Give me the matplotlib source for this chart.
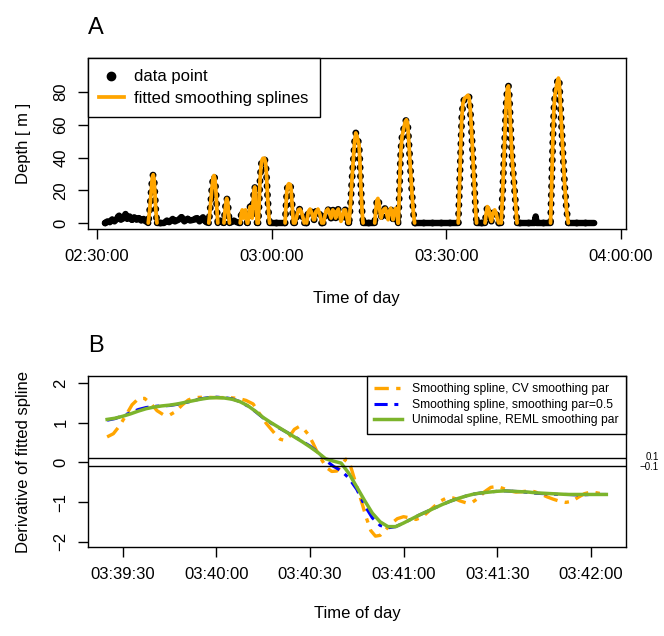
import numpy as np
import matplotlib
matplotlib.use("Agg")
import matplotlib.pyplot as plt
from matplotlib.lines import Line2D
from matplotlib.ticker import FixedLocator, FuncFormatter
import matplotlib.transforms as mtransforms

plt.rcParams["font.family"] = ["Liberation Sans", "DejaVu Sans"]

# ---- panel A: depth record (minutes after 02:30:00, metres) ----
obs_min = [
    1.4, 1.8, 2.2, 2.6, 3.0, 3.4, 3.8, 4.1, 4.5, 4.9, 5.2, 5.6, 6.0, 6.4, 6.8, 7.2, 7.6, 8.0, 8.4,
    8.8, 9.05, 9.3, 9.5, 9.65, 9.8, 9.95, 10.1, 10.3,
    11.5, 12.0, 12.4, 13.0, 13.4, 14.0, 14.5, 15.0, 15.6, 16.0, 16.6, 17.2, 17.6, 18.2, 18.6,
    19.2, 19.45, 19.7, 19.95, 20.1, 20.25, 20.45, 20.6, 20.75,
    21.2,
    21.8, 22.0, 22.2, 22.3, 22.45, 22.6, 22.75,
    23.5, 24.0,
    24.6, 24.8, 24.95, 25.1, 25.2, 25.35, 25.5, 25.65, 25.8,
    25.9, 26.1, 26.3, 26.5, 26.65, 26.8, 26.95, 27.1, 27.25, 27.4, 27.5,
    27.7, 27.85, 28.0, 28.15, 28.3, 28.5, 28.75, 28.95, 29.1, 29.3, 29.5, 29.65,
    32.3, 32.45, 32.6, 32.75, 32.95, 33.2, 33.35, 33.5, 33.65, 33.75,
    34.0, 34.3, 34.6, 34.85, 35.1, 35.4, 35.6,
    36.0, 36.3, 36.6, 36.9, 37.2, 37.35, 37.6, 37.95, 38.3, 38.6,
    38.9, 39.3, 39.65, 39.95, 40.2, 40.5, 40.8, 41.0, 41.2, 41.45, 41.7, 41.9, 42.1, 42.4, 42.65, 42.9, 43.1,
    43.3, 43.55, 43.8, 44.05, 44.25, 44.45, 44.65, 44.85, 45.0, 45.15, 45.35, 45.55, 45.7,
    47.7, 47.9, 48.1, 48.25, 48.45, 48.6, 48.8, 49.0, 49.3, 49.55, 49.8, 50.0, 50.2, 50.45, 50.7, 50.85,
    51.05, 51.3, 51.5, 51.7,
    51.75, 51.9, 52.05, 52.2, 52.4, 52.7, 52.95, 53.15, 53.35, 53.55, 53.8, 54.1, 54.35, 54.55,
    62.05, 62.2, 62.35, 62.5, 62.65, 62.85, 63.1, 63.4, 63.7, 63.9, 64.1, 64.35, 64.6, 64.85, 65.05, 65.2,
    66.65, 66.85, 67.05, 67.25, 67.5, 67.75, 68.0, 68.3, 68.55, 68.8, 69.0,
    69.42, 69.5, 69.67, 69.83, 70.0, 70.17, 70.33, 70.5, 70.67, 70.83, 71.0, 71.17, 71.33, 71.5, 71.67,
    71.83, 72.0, 72.08, 72.15,
    75.2, 75.35, 75.5,
    77.9, 78.05, 78.2, 78.35, 78.5, 78.65, 78.85, 79.05, 79.25, 79.4, 79.6, 79.85, 80.1, 80.35, 80.65, 80.95,
    85.4,
]
obs_depth = [
    0, 1.0, 0.5, 2.0, 1.0, 2.5, 4.5, 2.0, 3.0, 5.5, 2.5, 4.0, 2.0, 3.5, 2.0, 3.0, 1.5, 2.5, 1.0,
    0, 8, 19, 28, 29.5, 27, 18, 8, 0,
    0, 1.5, 0.5, 2.5, 1.0, 2.0, 3.5, 1.0, 2.5, 1.5, 2.0, 3.0, 1.0, 3.5, 1.0,
    0, 9, 20, 28, 29, 27, 18, 8, 0,
    1.5,
    0, 8, 14, 15, 13, 6, 0,
    1.5, 0.5,
    0, 6, 8, 5, 3, 7, 8, 4, 0,
    0, 6, 10, 5, 3, 12, 20, 22, 18, 8, 0,
    0, 12, 26, 34, 38, 39.5, 39.5, 37, 30, 16, 5, 0,
    0, 10, 19, 23, 24, 23.5, 20, 12, 4, 0,
    0, 4, 8, 8.5, 7, 3, 0,
    0, 7, 8.5, 6, 2, 2, 7, 8.5, 5, 0,
    0, 7, 8.5, 6, 3, 8, 6, 3, 7, 8.5, 5, 1, 3, 8, 8, 4, 0,
    0, 12, 27, 40, 50, 55, 53, 50, 48, 38, 20, 6, 0,
    0, 8, 14, 15, 12, 7, 3, 6, 8.5, 9, 5, 2, 7, 9, 6, 2,
    7, 9, 7, 0,
    0, 15, 32, 45, 53, 58, 62, 63, 61, 50, 35, 18, 6, 0,
    0, 15, 32, 50, 64, 73, 76, 77, 78, 77, 70, 55, 38, 20, 7, 0,
    0, 6, 10, 9, 4, 1, 6, 8, 6, 2, 0,
    0, 5.6, 18.6, 33, 48.8, 64.5, 76, 82.3, 83.7, 77.2, 61.7, 48.2, 38.2, 30.3, 23,
    15.2, 7.1, 3, 0,
    0, 4, 0,
    0, 18, 38, 57, 71, 78, 82, 86, 88.5, 86, 72, 55, 38, 22, 8, 0,
    0,
]
# dives that got a fitted spline (start, end in minutes after 02:30:00)
dive_start = [8.8, 19.2, 21.8, 24.6, 25.9, 27.7, 32.3, 34.0, 36.0, 38.9, 43.3, 47.7,
              51.75, 62.05, 66.65, 69.42, 77.9]
dive_end = [10.3, 20.75, 22.75, 25.8, 27.5, 29.65, 33.75, 35.6, 38.6, 43.1, 45.7, 51.7,
            54.55, 65.2, 69.0, 72.15, 80.95]

# ---- panel B: derivative of the fitted spline (seconds after 03:39:30) ----
deriv_t = [-5, -2.5, 0, 2.5, 5, 7.5, 10, 12.5, 15, 17.5, 20, 22.5, 25, 27.5, 30, 32.5, 35, 37.5,
           40, 42.5, 45, 47.5, 50, 52.5, 55, 57.5, 60, 62.5, 65, 67.5, 70, 72.5, 75, 77.5, 80,
           82.5, 85, 87.5, 90, 92.5, 95, 97.5, 100, 102.5, 105, 107.5, 110, 112.5, 115, 117.5,
           120, 122.5, 125, 127.5, 130, 132.5, 135, 137.5, 140, 142.5, 145, 147.5, 150, 152.5, 155]
unimodal = [1.08, 1.11, 1.16, 1.22, 1.29, 1.35, 1.39, 1.42, 1.44, 1.47, 1.51, 1.55, 1.59, 1.62,
            1.63, 1.62, 1.59, 1.53, 1.43, 1.29, 1.13, 1.00, 0.88, 0.76, 0.64, 0.52, 0.39, 0.25,
            0.09, 0.03, -0.02, -0.28, -0.62, -0.96, -1.28, -1.50, -1.62, -1.62, -1.53, -1.43,
            -1.33, -1.24, -1.15, -1.06, -0.98, -0.91, -0.85, -0.80, -0.77, -0.75, -0.73, -0.72,
            -0.73, -0.74, -0.75, -0.77, -0.78, -0.79, -0.80, -0.81, -0.81, -0.81, -0.81, -0.81, -0.81]
spar05 = [1.06, 1.10, 1.17, 1.25, 1.33, 1.38, 1.41, 1.42, 1.43, 1.46, 1.50, 1.55, 1.60, 1.63,
          1.64, 1.63, 1.60, 1.53, 1.42, 1.28, 1.12, 0.99, 0.87, 0.76, 0.65, 0.53, 0.41, 0.26,
          0.05, -0.10, -0.21, -0.40, -0.68, -1.08, -1.40, -1.59, -1.65, -1.62, -1.53, -1.43,
          -1.33, -1.24, -1.15, -1.06, -0.98, -0.91, -0.85, -0.80, -0.77, -0.75, -0.73, -0.72,
          -0.73, -0.74, -0.76, -0.78, -0.79, -0.80, -0.81, -0.81, -0.82, -0.82, -0.81, -0.81, -0.81]
cv_t = [-5, -3, -1, 1, 3, 5, 7, 9, 11, 13, 15, 17, 19, 21, 23, 26, 30, 34, 37, 39.5, 41.8, 43,
        44.5, 46, 47.5, 49, 50.5, 52, 53.5, 55, 56.5, 58, 59.5, 61, 62.2, 63.8, 65.4, 67, 68.6,
        70, 71.5, 72.5, 73.5, 75, 76.5, 78, 79.5, 81, 82.5, 84, 86, 88, 90, 92, 94, 96, 98, 100,
        102, 104, 106, 108, 110, 112, 114, 116, 118, 120, 122, 124, 126, 128, 130, 132, 134, 136,
        138, 140, 142, 144, 146, 148, 150, 152, 154, 155]
cv_spline = [0.64, 0.72, 0.92, 1.18, 1.45, 1.60, 1.61, 1.48, 1.30, 1.20, 1.19, 1.28, 1.44, 1.57,
             1.63, 1.64, 1.63, 1.63, 1.61, 1.56, 1.47, 1.32, 1.15, 0.98, 0.84, 0.70, 0.58, 0.55,
             0.66, 0.83, 0.90, 0.84, 0.70, 0.48, 0.28, 0.06, -0.14, -0.23, -0.22, -0.08, 0.08,
             0.03, -0.22, -0.61, -0.98, -1.38, -1.72, -1.86, -1.84, -1.72, -1.55, -1.42, -1.37,
             -1.40, -1.44, -1.38, -1.24, -1.10, -0.97, -0.89, -0.90, -0.97, -1.02, -1.01, -0.90,
             -0.74, -0.63, -0.61, -0.66, -0.72, -0.75, -0.74, -0.72, -0.74, -0.80, -0.87, -0.93,
             -0.98, -1.01, -0.98, -0.88, -0.79, -0.75, -0.77, -0.80, -0.82]

T0_A = 2 * 3600 + 30 * 60          # 02:30:00
T0_B = 3 * 3600 + 39 * 60 + 30     # 03:39:30


def hms(x, pos=None):
    s = int(round(x))
    return f"{s // 3600:02d}:{s % 3600 // 60:02d}:{s % 60:02d}"


def style_axes(ax):
    for sp in ax.spines.values():
        sp.set_linewidth(1.0)
    ax.tick_params(direction="out", length=7.2, width=1.0, labelsize=12, pad=7)
    ax.tick_params(axis="y", labelrotation=90)
    for lab in ax.get_yticklabels():
        lab.set_verticalalignment("center")
    ax.xaxis.set_major_formatter(FuncFormatter(hms))


fig = plt.figure(figsize=(6.64, 6.36), dpi=100)

# ---------------- panel A ----------------
axA = fig.add_axes([88 / 664, 1 - 229 / 636, 537.7 / 664, 171 / 636])
mins = np.array(obs_min)
t_sec = T0_A + mins * 60
depth = np.array(obs_depth, dtype=float)
inside = np.zeros(len(mins), dtype=bool)
for s, e in zip(dive_start, dive_end):
    inside |= (mins > s) & (mins < e)

# data points: dense record -> dotted outline, solid band at the surface
axA.plot(t_sec, depth, color="black", lw=5.0, linestyle=(0, (0.01, 1.25)),
         dash_capstyle="round", zorder=2)
surf = np.ma.masked_where(inside, depth)
axA.plot(t_sec, surf, color="black", lw=4.6, solid_capstyle="round",
         solid_joinstyle="round", zorder=2)
for s, e in zip(dive_start, dive_end):
    m = (mins >= s) & (mins <= e)
    axA.plot(t_sec[m], depth[m], color="orange", lw=2.7, solid_joinstyle="round",
             solid_capstyle="round", zorder=3)

axA.set_xlim(T0_A - 92.8, T0_A + 5448.6)
axA.set_ylim(-3.66, 100.76)
axA.xaxis.set_major_locator(FixedLocator([T0_A + k * 1800 for k in range(4)]))
axA.set_yticks([0, 20, 40, 60, 80])
style_axes(axA)
axA.set_xlabel("Time of day", fontsize=12, labelpad=20)
axA.set_ylabel("Depth [ m ]", fontsize=12, labelpad=16)

handles = [Line2D([], [], color="black", marker="o", ms=6, ls="none"),
           Line2D([], [], color="orange", lw=2.7)]
legA = axA.legend(handles, ["data point", "fitted smoothing splines"], loc="upper left",
                  bbox_to_anchor=(0, 1), borderaxespad=0, fancybox=False, framealpha=1,
                  edgecolor="black", fontsize=12, handlelength=1.45, handletextpad=0.65,
                  labelspacing=0.4, borderpad=0.68)
legA.get_frame().set_linewidth(1.0)
fig.text(88 / 664, 1 - 34 / 636, "A", fontsize=17)

# ---------------- panel B ----------------
axB = fig.add_axes([88.3 / 664, 1 - 547.3 / 636, 537.4 / 664, 171.3 / 636])
dash = (0, (4.3, 2.2, 1.3, 2.2))
axB.plot(T0_B + np.array(cv_t), cv_spline, color="orange", lw=2.4, linestyle=dash,
         label="Smoothing spline, CV smoothing par")
axB.plot(T0_B + np.array(deriv_t), spar05, color="blue", lw=2.2, linestyle=dash,
         label="Smoothing spline, smoothing par=0.5")
axB.plot(T0_B + np.array(deriv_t), unimodal, color="#7cb42c", lw=2.5,
         label="Unimodal spline, REML smoothing par")
axB.axhline(0.1, color="black", lw=1.0)
axB.axhline(-0.1, color="black", lw=1.0)

axB.set_xlim(T0_B - 11.03, T0_B + 161.2)
axB.set_ylim(-2.141, 2.174)
axB.xaxis.set_major_locator(FixedLocator([T0_B + k * 30 for k in range(6)]))
axB.set_yticks([-2, -1, 0, 1, 2])
style_axes(axB)
axB.set_xlabel("Time of day", fontsize=12, labelpad=17)
axB.set_ylabel("Derivative of fitted spline", fontsize=12, labelpad=16)

trans = mtransforms.blended_transform_factory(axB.transAxes, axB.transData)
axB.text(1.062, 0.13, "0.1", transform=trans, ha="right", va="center", fontsize=7)
axB.text(1.062, -0.13, "\u22120.1", transform=trans, ha="right", va="center", fontsize=7)

legB = axB.legend(loc="upper right", borderaxespad=0, fancybox=False, framealpha=1,
                  edgecolor="black", fontsize=8.7, handlelength=2.3, handletextpad=0.8,
                  labelspacing=0.3, borderpad=0.6)
legB.get_frame().set_linewidth(1.0)
fig.text(88 / 664, 1 - 352 / 636, "B", fontsize=17)

fig.savefig("out.png", dpi=100)
